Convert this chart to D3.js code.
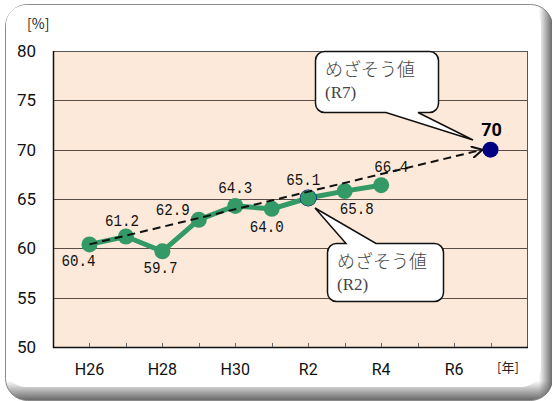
<!DOCTYPE html>
<html>
<head>
<meta charset="utf-8">
<script src="https://cdn.jsdelivr.net/npm/d3@7"></script>
<style>
  body { margin: 0; background: #fff; }
  svg { display: block; }
</style>
</head>
<body id="body">
<svg></svg>
<script>
var years = ["H26", "H27", "H28", "H29", "H30", "R1", "R2", "R3", "R4", "R5", "R6", "R7"];
var tickLabels = ["H26", "H28", "H30", "R2", "R4", "R6"];
var actual = [60.4, 61.2, 59.7, 62.9, 64.3, 64.0, 65.1, 65.8, 66.4];
var goalYears = ["H26", "R7"];
var goalValues = [60.4, 70];
var yTicks = [50, 55, 60, 65, 70, 75, 80];

// label offsets from each point (layout only)
var labelOffset = [[-11, 22], [-4, -10], [-2, 22], [-26, -5], [0, -13],
  [-5, 23], [-5, -13], [12, 23], [10, -13]];

var width = 552, height = 401;
var svg = d3.select("svg").attr("width", width).attr("height", height);

var plot = {left: 53, right: 527, top: 51, bottom: 347};

var x = d3.scalePoint()
  .domain(years)
  .range([plot.left, plot.right])
  .padding(1);

var y = d3.scaleLinear()
  .domain([50, 80])
  .range([plot.bottom, plot.top]);

// frame with bevel shadow
var defs = svg.append("defs");
var gv = defs.append("linearGradient").attr("id", "shadeV")
  .attr("x1", "0").attr("y1", "0").attr("x2", "0").attr("y2", "1");
gv.append("stop").attr("offset", "0.95").attr("stop-color", "#fff");
gv.append("stop").attr("offset", "1").attr("stop-color", "#666");
var gh = defs.append("linearGradient").attr("id", "shadeH")
  .attr("x1", "0").attr("y1", "0").attr("x2", "1").attr("y2", "0");
gh.append("stop").attr("offset", "0.975").attr("stop-color", "#666").attr("stop-opacity", 0);
gh.append("stop").attr("offset", "1").attr("stop-color", "#666").attr("stop-opacity", 1);

svg.append("rect")
  .attr("x", 5.5).attr("y", 4.5)
  .attr("width", 547).attr("height", 396)
  .attr("rx", 22)
  .attr("fill", "url(#shadeV)")
  .attr("stroke", "#8a8a8a");
svg.append("rect")
  .attr("x", 5.5).attr("y", 4.5)
  .attr("width", 547).attr("height", 396)
  .attr("rx", 22)
  .attr("fill", "url(#shadeH)")
  .attr("stroke", "none");

svg.append("rect")
  .attr("x", 6).attr("y", 5)
  .attr("width", 535).attr("height", 382)
  .attr("rx", 20)
  .attr("fill", "#fff")
  .attr("stroke", "none");

// plot background
svg.append("rect")
  .attr("x", plot.left).attr("y", plot.top)
  .attr("width", plot.right - plot.left)
  .attr("height", plot.bottom - plot.top)
  .attr("fill", "#fde9d9");

svg.append("g")
  .selectAll("line")
  .data(yTicks.slice(1))
  .enter().append("line")
  .attr("x1", plot.left).attr("x2", plot.right)
  .attr("y1", function (d) { return Math.round(y(d)) + 0.5; })
  .attr("y2", function (d) { return Math.round(y(d)) + 0.5; })
  .attr("stroke", "#5a4c46")
  .attr("stroke-width", 1);

svg.append("rect")
  .attr("x", plot.left + 0.5).attr("y", plot.top + 0.5)
  .attr("width", plot.right - plot.left)
  .attr("height", plot.bottom - plot.top)
  .attr("fill", "none")
  .attr("stroke", "#555");

// axes
svg.append("line")
  .attr("x1", plot.left + 0.5).attr("x2", plot.left + 0.5)
  .attr("y1", plot.top).attr("y2", plot.bottom + 1)
  .attr("stroke", "#111").attr("stroke-width", 1.5);
svg.append("line")
  .attr("x1", plot.left).attr("x2", plot.right + 1)
  .attr("y1", plot.bottom + 0.5).attr("y2", plot.bottom + 0.5)
  .attr("stroke", "#111").attr("stroke-width", 1.5);

svg.append("g")
  .selectAll("line")
  .data(years)
  .enter().append("line")
  .attr("x1", function (d) { return Math.round(x(d)) + 0.5; })
  .attr("x2", function (d) { return Math.round(x(d)) + 0.5; })
  .attr("y1", plot.bottom - 4).attr("y2", plot.bottom)
  .attr("stroke", "#666");

svg.append("g")
  .selectAll("text")
  .data(yTicks)
  .enter().append("text")
  .attr("x", 36)
  .attr("y", function (d) { return y(d) + 6; })
  .attr("text-anchor", "end")
  .attr("font-family", "Roboto, 'Liberation Sans', sans-serif")
  .attr("font-size", 17)
  .attr("fill", "#111")
  .text(function (d) { return d; });

svg.append("g")
  .selectAll("text")
  .data(tickLabels)
  .enter().append("text")
  .attr("x", function (d) { return x(d); })
  .attr("y", 375)
  .attr("text-anchor", "middle")
  .attr("font-family", "Roboto, 'Liberation Sans', sans-serif")
  .attr("font-size", 16)
  .attr("fill", "#111")
  .text(function (d) { return d; });

svg.append("text")
  .attr("x", 27).attr("y", 29)
  .attr("font-family", "'Noto Sans CJK JP', sans-serif")
  .attr("font-size", 14)
  .attr("fill", "#222")
  .text("[%]");

svg.append("text")
  .attr("x", 497).attr("y", 372)
  .attr("font-family", "'Noto Sans CJK JP', sans-serif")
  .attr("font-size", 13)
  .attr("fill", "#222")
  .text("[年]");

// callouts
function calloutPath(bx, by, w, h, r, side, p1, p2, tip) {
  var p = d3.path();
  p.moveTo(bx + r, by);
  if (side === "top") {
    p.lineTo(p1, by); p.lineTo(tip[0], tip[1]); p.lineTo(p2, by);
  }
  p.lineTo(bx + w - r, by);
  p.arcTo(bx + w, by, bx + w, by + r, r);
  p.lineTo(bx + w, by + h - r);
  p.arcTo(bx + w, by + h, bx + w - r, by + h, r);
  if (side === "bottom") {
    p.lineTo(p2, by + h); p.lineTo(tip[0], tip[1]); p.lineTo(p1, by + h);
  }
  p.lineTo(bx + r, by + h);
  p.arcTo(bx, by + h, bx, by + h - r, r);
  p.lineTo(bx, by + r);
  p.arcTo(bx, by, bx + r, by, r);
  p.closePath();
  return p.toString();
}

var callouts = [
  {box: [315, 51, 123, 61], side: "bottom", p: [386, 418], tip: [473, 140], title: "めざそう値", sub: "(R7)"},
  {box: [327, 243, 116, 58], side: "top", p: [346, 376], tip: [315, 208], title: "めざそう値", sub: "(R2)"}
];

var cg = svg.append("g").selectAll("g")
  .data(callouts)
  .enter().append("g");

cg.append("path")
  .attr("d", function (d) {
    return calloutPath(d.box[0] + 0.5, d.box[1] + 0.5, d.box[2], d.box[3], 9, d.side, d.p[0], d.p[1], d.tip);
  })
  .attr("fill", "#fff")
  .attr("stroke", "#111")
  .attr("stroke-width", 1.5);

cg.append("text")
  .attr("x", function (d) { return d.box[0] + 10; })
  .attr("y", function (d) { return d.box[1] + 25; })
  .attr("font-family", "'Noto Sans CJK JP', sans-serif")
  .attr("font-weight", 300)
  .attr("font-size", 18)
  .attr("fill", "#444")
  .text(function (d) { return d.title; });

cg.append("text")
  .attr("x", function (d) { return d.box[0] + 10; })
  .attr("y", function (d) { return d.box[1] + 47; })
  .attr("font-family", "'Liberation Serif', 'DejaVu Serif', serif")
  .attr("font-size", 17)
  .attr("fill", "#444")
  .text(function (d) { return d.sub; });

// goal dashed arrow line
defs.append("marker")
  .attr("id", "arrow")
  .attr("viewBox", "0 0 12 12")
  .attr("refX", 11).attr("refY", 6)
  .attr("markerWidth", 12).attr("markerHeight", 12)
  .attr("markerUnits", "userSpaceOnUse")
  .attr("orient", "auto")
  .append("path")
  .attr("d", "M0,0 L11,6 L0,12")
  .attr("fill", "none")
  .attr("stroke", "#111")
  .attr("stroke-width", 2);

// actual values line
var line = d3.line()
  .x(function (d, i) { return x(years[i]); })
  .y(function (d) { return y(d); });

svg.append("path")
  .datum(actual)
  .attr("d", line)
  .attr("fill", "none")
  .attr("stroke", "#339966")
  .attr("stroke-width", 5);

svg.append("circle")
  .attr("cx", x("R2")).attr("cy", y(65.1))
  .attr("r", 8.5)
  .attr("fill", "#000080");

svg.append("g")
  .selectAll("circle")
  .data(actual)
  .enter().append("circle")
  .attr("cx", function (d, i) { return x(years[i]); })
  .attr("cy", function (d) { return y(d); })
  .attr("r", 8)
  .attr("fill", "#339966");

var goalLine = d3.line()
  .x(function (d, i) { return x(goalYears[i]) + (i === 1 ? -8 : 0); })
  .y(function (d) { return y(d); });

svg.append("path")
  .datum(goalValues)
  .attr("d", goalLine)
  .attr("fill", "none")
  .attr("stroke", "#111")
  .attr("stroke-width", 2)
  .attr("stroke-dasharray", "8,5")
  .attr("marker-end", "url(#arrow)");

svg.append("circle")
  .attr("cx", x("R7")).attr("cy", y(70))
  .attr("r", 8)
  .attr("fill", "#000080");

// data labels
svg.append("g")
  .selectAll("text")
  .data(actual)
  .enter().append("text")
  .attr("x", function (d, i) { return x(years[i]) + labelOffset[i][0]; })
  .attr("y", function (d, i) { return y(d) + labelOffset[i][1]; })
  .attr("text-anchor", "middle")
  .attr("font-family", "'Liberation Mono', 'DejaVu Sans Mono', monospace")
  .attr("font-size", 16)
  .attr("textLength", 34)
  .attr("lengthAdjust", "spacingAndGlyphs")
  .attr("fill", "#111")
  .text(function (d) { return d.toFixed(1); });

svg.append("text")
  .attr("x", x("R7") + 1)
  .attr("y", y(70) - 14)
  .attr("text-anchor", "middle")
  .attr("font-family", "Roboto, 'Liberation Sans', sans-serif")
  .attr("font-weight", "bold")
  .attr("font-size", 18)
  .attr("fill", "#000")
  .text(goalValues[1]);
</script>
</body>
</html>
